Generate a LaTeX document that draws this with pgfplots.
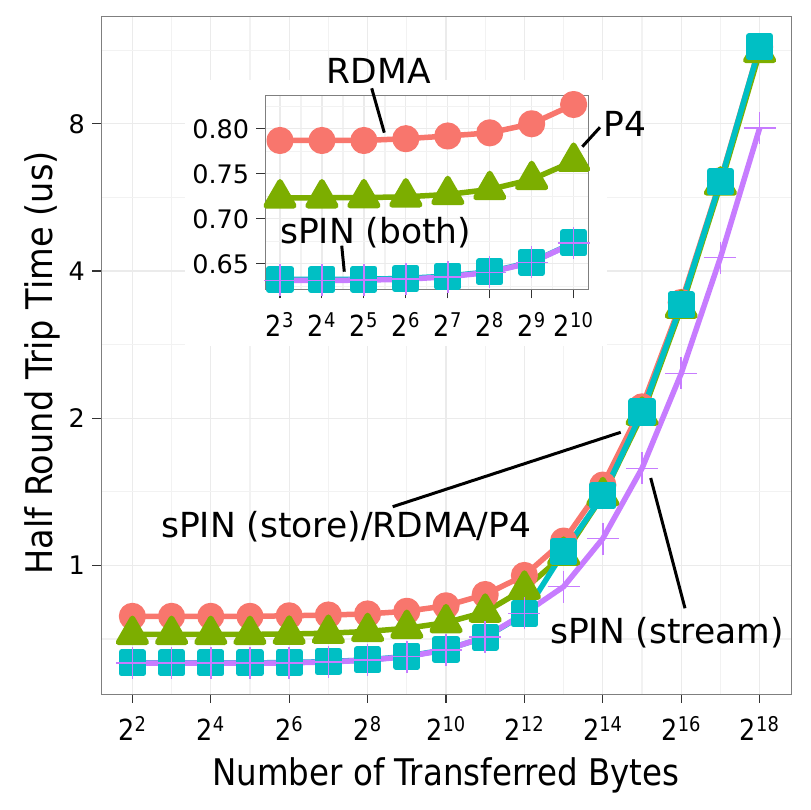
\documentclass[border=0pt]{standalone}
\usepackage{fontspec}
\setmainfont{DejaVu Sans}
\usepackage{pgfplots}
\pgfplotsset{compat=1.18}
\definecolor{cR}{HTML}{F8766D}
\definecolor{cP}{HTML}{7CAE00}
\definecolor{cC}{HTML}{00BFC4}
\definecolor{cS}{HTML}{C77CFF}
\definecolor{frame}{HTML}{7F7F7F}
\definecolor{gridmaj}{HTML}{EBEBEB}
\definecolor{gridmin}{HTML}{F2F2F2}
\definecolor{tickc}{HTML}{333333}
\pgfplotsset{
  ggstyle/.style={
    scale only axis,
    axis line style={draw=frame, line width=1pt},
    grid=both,
    major grid style={draw=gridmaj, line width=1.3pt},
    minor grid style={draw=gridmin, line width=1.3pt},
    tick align=outside, tick pos=left,
    major tick length=9pt, minor tick length=0pt,
    tick style={draw=tickc, line width=1.1pt},
    yticklabel style={font=\fontsize{25.5}{30}\selectfont, text=black, anchor=east, inner sep=0pt, xshift=-7pt},
    xticklabel style={font=\fontsize{29}{34}\selectfont, text=black, xscale=0.88, anchor=base, inner sep=0pt, yshift=-38pt},
    /pgf/number format/assume math mode=true,
  },
  lineR/.style={cR, line width=5.5pt, line join=round, mark=*, mark size=10.8pt, mark options={draw=none, fill=cR}},
  lineP/.style={cP, line width=5.5pt, line join=round, mark=triangle*, mark size=16pt, mark options={draw=none, fill=cP}},
  lineC/.style={cC, line width=5.5pt, line join=round, mark=square*, mark size=10.8pt, mark options={draw=none, fill=cC}},
  lineS/.style={cS, line width=5.5pt, line join=round, mark=+, mark size=16pt, mark options={draw=cS, line width=1.5pt}},
}
\begin{document}
\begin{tikzpicture}
\path (-101pt,-116pt) rectangle (709pt,694pt);
\begin{axis}[ggstyle,
  at={(0pt,0pt)}, anchor=south west,
  width=690pt, height=677.3pt,
  xmode=log, ymode=log,
  xmin=2.297, xmax=456419, ymin=0.5459, ymax=13.25,
  xtick={4,16,64,256,1024,4096,16384,65536,262144},
  xticklabels={2\textsuperscript{2},2\textsuperscript{4},2\textsuperscript{6},2\textsuperscript{8},2\textsuperscript{10},2\textsuperscript{12},2\textsuperscript{14},2\textsuperscript{16},2\textsuperscript{18}},
  minor xtick={8,32,128,512,2048,8192,32768,131072},
  ytick={1,2,4,8}, yticklabels={1,2,4,8},
  minor ytick={0.7071,1.4142,2.8284,5.6569,11.3137},
]
\addplot[lineR] coordinates {(4,0.787)(8,0.787)(16,0.787)(32,0.787)(64,0.789)(128,0.792)(256,0.796)(512,0.806)(1024,0.827)(2048,0.872)(4096,0.954)(8192,1.122)(16384,1.46)(32768,2.11)(65536,3.45)(131072,6.12)(262144,11.5)};
\addplot[lineP] coordinates {(4,0.723)(8,0.723)(16,0.723)(32,0.723)(64,0.724)(128,0.727)(256,0.733)(512,0.744)(1024,0.764)(2048,0.803)(4096,0.895)(8192,1.05)(16384,1.39)(32768,2.03)(65536,3.36)(131072,6.0)(262144,11.2)};
\addplot[lineC] coordinates {(4,0.632)(8,0.632)(16,0.632)(32,0.632)(64,0.633)(128,0.636)(256,0.641)(512,0.652)(1024,0.673)(2048,0.713)(4096,0.796)(8192,1.066)(16384,1.39)(32768,2.06)(65536,3.41)(131072,6.09)(262144,11.5)};
\addplot[lineS] coordinates {(4,0.631)(8,0.631)(16,0.631)(32,0.631)(64,0.632)(128,0.635)(256,0.640)(512,0.651)(1024,0.672)(2048,0.714)(4096,0.798)(8192,0.905)(16384,1.135)(32768,1.58)(65536,2.47)(131072,4.26)(262144,7.84)};
\end{axis}
\fill[white] (84pt,348pt) rectangle (506pt,614pt);
\begin{axis}[ggstyle,
  at={(164.3pt,404.7pt)}, anchor=south west,
  width=323pt, height=193.6pt,
  xmode=log,
  xmin=6.276, xmax=1305, ymin=0.6216, ymax=0.8368,
  xtick={8,16,32,64,128,256,512,1024},
  xticklabels={2\textsuperscript{3},2\textsuperscript{4},2\textsuperscript{5},2\textsuperscript{6},2\textsuperscript{7},2\textsuperscript{8},2\textsuperscript{9},2\textsuperscript{10}},
  minor xtick={11.31,22.63,45.25,90.51,181.02,362.04,724.08},
  ytick={0.65,0.70,0.75,0.80}, yticklabels={0.65,0.70,0.75,0.80},
  minor ytick={0.625,0.675,0.725,0.775,0.825},
]
\addplot[lineR] coordinates {(8,0.787)(16,0.787)(32,0.787)(64,0.789)(128,0.792)(256,0.7955)(512,0.8056)(1024,0.827)};
\addplot[lineP] coordinates {(8,0.7233)(16,0.7233)(32,0.7235)(64,0.7244)(128,0.727)(256,0.7326)(512,0.7437)(1024,0.764)};
\addplot[lineC] coordinates {(8,0.6326)(16,0.6326)(32,0.6328)(64,0.6337)(128,0.6363)(256,0.6411)(512,0.6518)(1024,0.6733)};
\addplot[lineS] coordinates {(8,0.6314)(16,0.6314)(32,0.6318)(64,0.6328)(128,0.6355)(256,0.6405)(512,0.6515)(1024,0.673)};
\end{axis}
\begin{scope}[every node/.style={font=\fontsize{34.5}{40}\selectfont, anchor=base west, inner sep=0pt}]
\node at (225.7pt,610.7pt) {RDMA};
\draw[line width=3pt] (270.7pt,605.7pt) -- (283.3pt,561.3pt);
\node at (502pt,557.3pt) {P4};
\draw[line width=3pt] (499pt,566.7pt) -- (481.3pt,547.3pt);
\node at (179pt,450.7pt) {sPIN (both)};
\draw[line width=3pt] (240.7pt,448.3pt) -- (243.3pt,422.3pt);
\node at (60pt,156pt) {sPIN (store)/RDMA/P4};
\draw[line width=3pt] (291.7pt,187.3pt) -- (519.7pt,261.7pt);
\node at (449pt,50pt) {sPIN (stream)};
\draw[line width=3pt] (549.7pt,216pt) -- (584pt,85.7pt);
\end{scope}
\node[rotate=90, xscale=0.915, anchor=base, inner sep=0pt, font=\fontsize{36.7}{42}\selectfont] at (-48pt,331pt) {Half Round Trip Time (us)};
\node[xscale=0.885, anchor=base, inner sep=0pt, font=\fontsize{36.7}{42}\selectfont] at (345pt,-91pt) {Number of Transferred Bytes};
\end{tikzpicture}
\end{document}
